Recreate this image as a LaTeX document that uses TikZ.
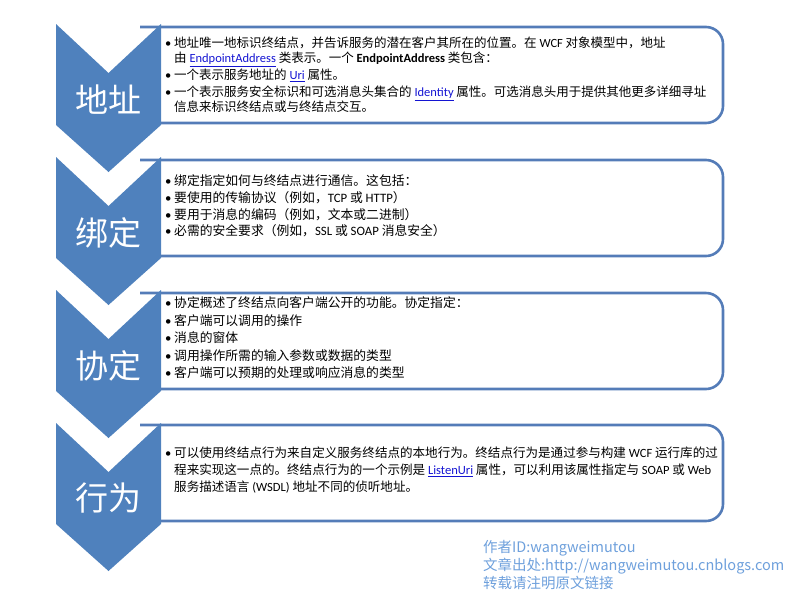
\documentclass[tikz,border=0pt]{standalone}
\usepackage{fontspec}
\setmainfont{Carlito}
\newfontfamily\cjk{Noto Sans CJK SC}
\newfontfamily\lat{Carlito}
\usepackage{xcolor}
\usepackage{tikz}

\definecolor{chevblue}{RGB}{79,129,189}
\definecolor{boxblue}{RGB}{84,124,184}
\definecolor{linkblue}{RGB}{20,20,210}
\definecolor{markblue}{RGB}{110,160,220}

\newcommand{\la}[1]{{\lat #1}}
\newcommand{\lnk}[1]{{\lat\color{linkblue}\underline{#1}}}
\newcommand{\bul}{\makebox[9pt][l]{\lat\textbullet}}
\newcommand{\hng}{\hspace*{9pt}}

\begin{document}
\begin{tikzpicture}[x=1pt, y=-1pt, line join=round,
  chev/.style={fill=chevblue},
  boxline/.style={draw=boxblue, line width=2.6pt, rounded corners=17pt},
  lbl/.style={font=\cjk\fontsize{33}{33}\selectfont, text=white, inner sep=0pt},
  txt/.style={font=\cjk\fontsize{12.8}{16.7}\selectfont, align=left, inner sep=0pt, anchor=west},
  notetext/.style={font=\cjk\fontsize{14.5}{18}\selectfont, text=markblue, align=left, inner sep=0pt, anchor=west}]
\useasboundingbox (0,0) rectangle (800,606);
% Boxes on the right (left ends hidden behind the chevrons)
\draw[boxline] (140,27) -- (723,27) -- (723,123) -- (140,123);
\draw[boxline] (140,160) -- (723,160) -- (723,256) -- (140,256);
\draw[boxline] (140,293) -- (723,293) -- (723,389) -- (140,389);
\draw[boxline] (140,425) -- (723,425) -- (723,521) -- (140,521);
% Chevrons pointing down
\fill[chev] (56,24) -- (108.5,73) -- (161,24) -- (161,125) -- (108.5,172) -- (56,125) -- cycle;
\fill[chev] (56,157) -- (108.5,206) -- (161,157) -- (161,258) -- (108.5,305) -- (56,258) -- cycle;
\fill[chev] (56,290) -- (108.5,339) -- (161,290) -- (161,391) -- (108.5,438) -- (56,391) -- cycle;
\fill[chev] (56,423) -- (108.5,472) -- (161,423) -- (161,524) -- (108.5,571) -- (56,524) -- cycle;
% Chevron labels
\node[lbl] (addrlabel) at (108.5,100) {地址};
\node[lbl] (bindlabel) at (108.5,233) {绑定};
\node[lbl] (contlabel) at (108.5,366) {协定};
\node[lbl] (behvlabel) at (108.5,498) {行为};
% Box texts
\node[txt, font=\cjk\fontsize{12.5}{15}\selectfont] (addrtext) at (165,75) {%
\bul 地址唯一地标识终结点，并告诉服务的潜在客户其所在的位置。在 \la{WCF} 对象模型中，地址\\
\hng 由 \lnk{EndpointAddress} 类表示。一个 \la{\bfseries EndpointAddress} 类包含：\\[2pt]
\bul 一个表示服务地址的 \lnk{Uri} 属性。\\[2pt]
\bul 一个表示服务安全标识和可选消息头集合的 \lnk{Identity} 属性。可选消息头用于提供其他更多详细寻址\\
\hng 信息来标识终结点或与终结点交互。};
\node[txt] (bindtext) at (165,206) {%
\bul 绑定指定如何与终结点进行通信。这包括：\\
\bul 要使用的传输协议（例如，\la{TCP} 或 \la{HTTP}）\\
\bul 要用于消息的编码（例如，文本或二进制）\\
\bul 必需的安全要求（例如，\la{SSL} 或 \la{SOAP} 消息安全）};
\node[txt, font=\cjk\fontsize{12.8}{17.5}\selectfont] (conttext) at (165,338) {%
\bul 协定概述了终结点向客户端公开的功能。协定指定：\\
\bul 客户端可以调用的操作\\
\bul 消息的窗体\\
\bul 调用操作所需的输入参数或数据的类型\\
\bul 客户端可以预期的处理或响应消息的类型};
\node[txt, font=\cjk\fontsize{12.55}{16.7}\selectfont] (behvtext) at (165,470) {%
\bul 可以使用终结点行为来自定义服务终结点的本地行为。终结点行为是通过参与构建 \la{WCF} 运行库的过\\
\hng 程来实现这一点的。终结点行为的一个示例是 \lnk{ListenUri} 属性，可以利用该属性指定与 \la{SOAP} 或 \la{Web}\\
\hng 服务描述语言 \la{(WSDL)} 地址不同的侦听地址。};
% Author note
\node[notetext] (note) at (483,565) {作者ID:wangweimutou\\文章出处:http://wangweimutou.cnblogs.com\\转载请注明原文链接};
\end{tikzpicture}
\end{document}
